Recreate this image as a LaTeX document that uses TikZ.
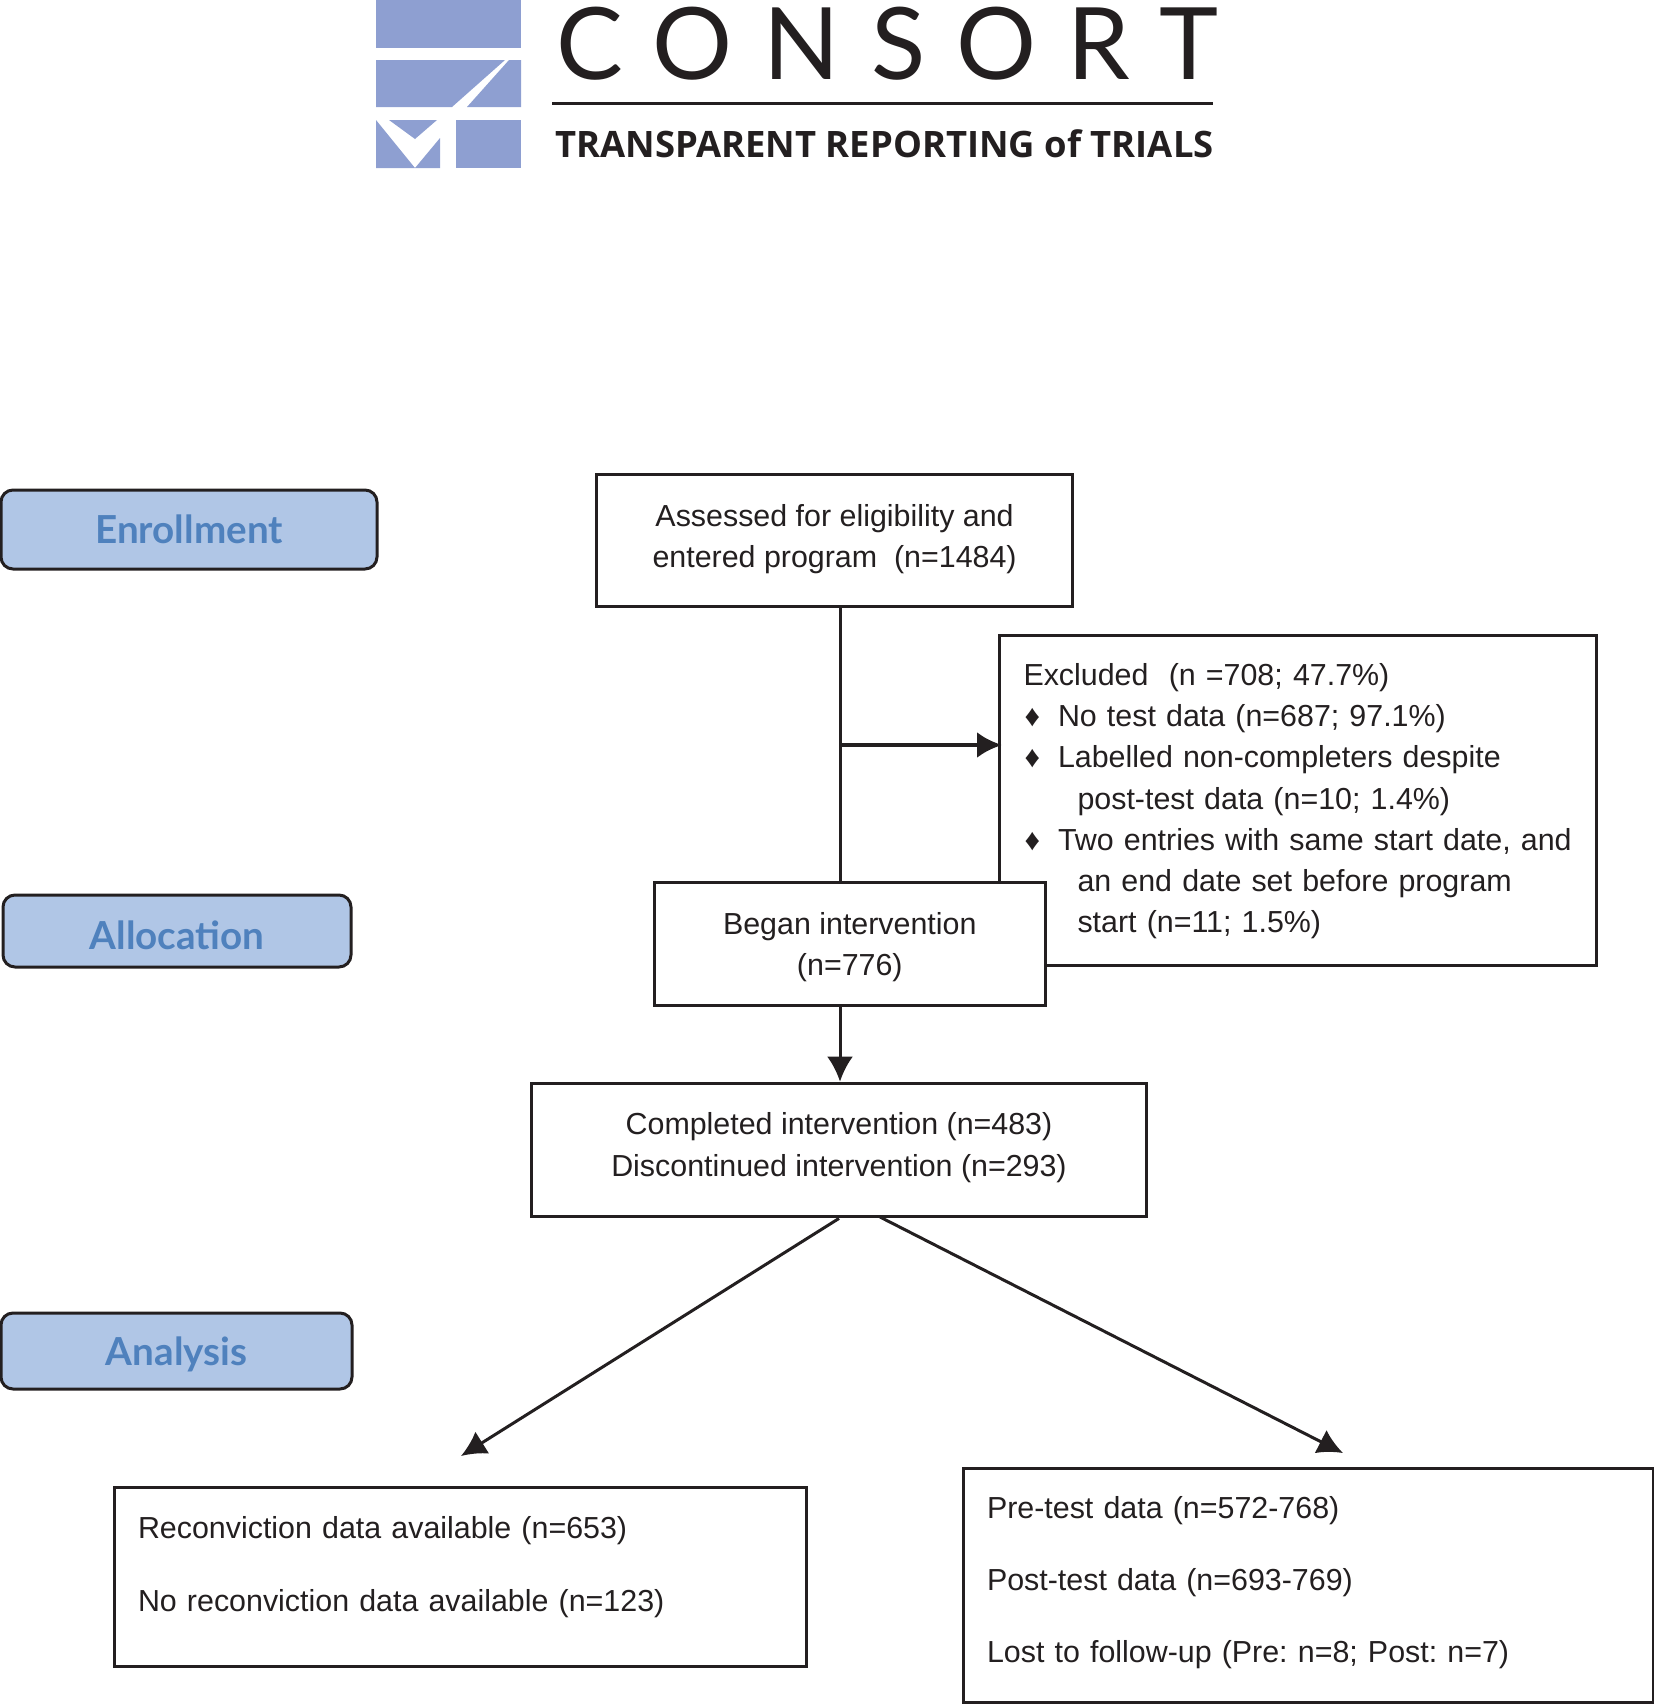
\documentclass[tikz,border=0pt]{standalone}
\usepackage{fontspec}
\usepackage{tikz}
\usetikzlibrary{arrows.meta}
\setmainfont{Liberation Sans}
\newfontfamily\logofont[LetterSpace=31]{Lato}
\newfontfamily\tagfont{Open Sans}
\newfontfamily\phasefont{Lato}
\definecolor{logoblue}{HTML}{8E9FD1}
\definecolor{phasefill}{HTML}{B0C6E6}
\definecolor{phasetext}{HTML}{4F81BD}
\definecolor{inkline}{HTML}{231F20}
\newcommand{\topgap}[1]{\rule{0pt}{#1}}
\newcommand{\botgap}[1]{\rule[-#1]{0pt}{#1}}

\begin{document}
\frenchspacing
\begin{tikzpicture}[x=0.5pt, y=-0.5pt, text=inkline, font=\fontsize{15.2}{20.6}\selectfont]

%STYLES
\tikzstyle{box}=[draw=inkline, line width=1.5pt, fill=white, inner sep=0pt, align=center]
\tikzstyle{listbox}=[box, align=left, inner xsep=12pt]
\tikzstyle{phase}=[draw=inkline, line width=1.5pt, fill=phasefill, rounded corners=6pt, inner sep=0pt, text=phasetext, font=\phasefont\bfseries\fontsize{19.3}{22}\selectfont]
\tikzstyle{link}=[draw=inkline, line width=1.5pt]
\tikzstyle{tip}=[-{Latex[length=12.5pt, width=13pt]}]

\useasboundingbox (0,0) rectangle (1654,1704);

%LOGO
\fill[logoblue] (376,0) rectangle (521,48);
\fill[logoblue] (376,60) -- (505,60) -- (452,107) -- (376,107) -- cycle;
\fill[logoblue] (509,60) -- (521,60) -- (521,107) -- (467,107) -- cycle;
\fill[logoblue] (389,120) -- (437,120) -- (415,139) -- cycle;
\fill[logoblue] (376,120) -- (415,168) -- (376,168) -- cycle;
\fill[logoblue] (440,138) -- (440,168) -- (415,168) -- cycle;
\fill[logoblue] (456,120) rectangle (521,168);
\node[anchor=base west, inner sep=0pt, font=\logofont\fontsize{50}{50}\selectfont] (logoname) at (556,79) {CONSORT};
\node[anchor=base west, inner sep=0pt, font=\tagfont\bfseries\fontsize{18.2}{18}\selectfont] (logotag) at (555,157) {TRANSPARENT REPORTING of TRIALS};
\draw[draw=inkline, line width=1.5pt] (552,103) -- (1213,103);

%NODES
\node[phase, minimum width=188pt, minimum height=39.5pt] (enrollment) at (189,529.5) {Enrollment};
\node[phase, minimum width=174pt, minimum height=36pt, text height=18.4pt, text depth=0pt] (allocation) at (177,931) {Allocation};
\node[phase, minimum width=175.5pt, minimum height=38pt, text height=14.4pt, text depth=0pt] (analysis) at (176.5,1351) {Analysis};

\node[box, minimum width=238pt, minimum height=65.75pt] (assessed) at (834.6,540.6)
	{Assessed for eligibility and\\entered program~~(n=1484)\botgap{4.4pt}};
\node[listbox, minimum height=165pt, text width=274.5pt] (excluded) at (1298,800)
	{\topgap{12.2pt}Excluded~~(n =708; 47.7\%)\\
	\hspace*{0.5pt}♦\hspace{9pt}No test data (n=687; 97.1\%)\\
	\hspace*{0.5pt}♦\hspace{9pt}Labelled non-completers despite\\
	\hspace*{27pt}post-test data (n=10; 1.4\%)\\
	\hspace*{0.5pt}♦\hspace{9pt}Two entries with same start date, and\\
	\hspace*{27pt}an end date set before program\\
	\hspace*{27pt}start (n=11; 1.5\%)};

%CONNECTORS BEHIND THE BEGAN BOX
\coordinate (junction) at (840,745);
\draw[link] (assessed.south -| junction) -- (840,882);
\draw[link, tip, line width=2.2pt, shorten >=-2pt] (junction) -- (excluded.west |- junction);

\node[box, minimum width=195.6pt, minimum height=61.4pt] (began) at (849.8,943.8)
	{\topgap{14.5pt}Began intervention\\(n=776)};
\node[box, minimum width=307.5pt, minimum height=66.9pt] (completed) at (839,1150)
	{Completed intervention (n=483)\\Discontinued intervention (n=293)\botgap{5.5pt}};
\node[listbox, minimum height=89.7pt, text width=322pt] (reconviction) at (460,1577)
	{Reconviction data available (n=653)\\[15.6pt]
	No reconviction data available (n=123)\botgap{13pt}};
\node[listbox, minimum height=117pt, text width=321pt] (pretest) at (1308,1585)
	{Pre-test data (n=572-768)\\[15.3pt]
	Post-test data (n=693-769)\\[15.3pt]
	Lost to follow-up (Pre: n=8; Post: n=7)\botgap{5.5pt}};

%CONNECTORS
\coordinate (leftend) at (461,1456);
\coordinate (rightstart) at (880,1217);
\coordinate (rightend) at (1343,1453);
\draw[link, tip] (began.south -| junction) -- (completed.north -| junction);
\draw[link, tip] (completed.south) -- (leftend);
\draw[link, tip] (rightstart) -- (rightend);

\end{tikzpicture}
\end{document}
